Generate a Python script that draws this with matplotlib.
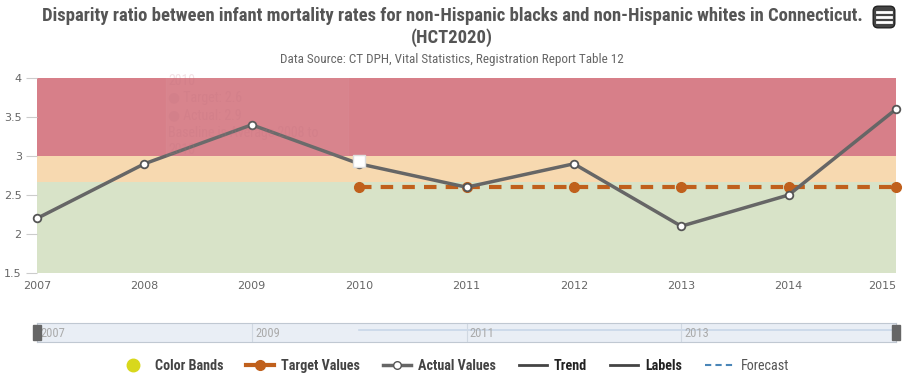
import matplotlib
matplotlib.use("Agg")
import matplotlib.pyplot as plt
from matplotlib.lines import Line2D
from matplotlib.patches import Rectangle, FancyBboxPatch

NARROW = ['Roboto Condensed', 'Asap Condensed', 'Archivo Narrow', 'DejaVu Sans']
plt.rcParams['font.family'] = NARROW

# data
years = [2007, 2008, 2009, 2010, 2011, 2012, 2013, 2014, 2015]
actual = [2.2, 2.9, 3.4, 2.9, 2.6, 2.9, 2.1, 2.5, 3.6]
target_years = [2010, 2011, 2012, 2013, 2014, 2015]
target = [2.6, 2.6, 2.6, 2.6, 2.6, 2.6]
bands = [(1.5, 2.67, '#d8e3c8'), (2.67, 3.0, '#f7d9b0'), (3.0, 4.0, '#d77f89')]
nav_ticks = [2007, 2009, 2011, 2013]

W, H = 904, 376
fig = plt.figure(figsize=(W / 100, H / 100), dpi=100)
renderer = fig.canvas.get_renderer()

def px_axes(x0, y0, x1, y1):
    return fig.add_axes([x0 / W, 1 - y1 / H, (x1 - x0) / W, (y1 - y0) / H])

def fit_width(txt, width_px):
    # shrink/grow text so it spans about width_px pixels
    w = txt.get_window_extent(renderer).width
    txt.set_fontsize(txt.get_fontsize() * width_px / w)

# main chart
ax = px_axes(37, 78, 896, 273)
for lo, hi, c in bands:
    ax.axhspan(lo, hi, color=c, zorder=0, lw=0)
ax.plot(target_years, target, color='#c0601c', lw=3, ls=(0, (3, 2.2)),
        marker='o', ms=7, mfc='#c0601c', mec='#c0601c', zorder=3, clip_on=False)
ax.plot(years, actual, color='#666666', lw=2.5, marker='o', ms=5.5,
        mfc='white', mec='#555555', mew=1.3, zorder=4, clip_on=False)
# little label box at 2010
ax.plot([2010], [2.94], marker='s', ms=9, mfc='white', mec='#dddddd', zorder=5)

ax.set_xlim(2007, 2015)
ax.set_ylim(1.5, 4)
ax.set_xticks(years)
ax.set_yticks([1.5, 2, 2.5, 3, 3.5, 4])
ax.set_yticklabels(['1.5', '2', '2.5', '3', '3.5', '4'])
ax.tick_params(axis='y', length=8, color='#cccccc', labelcolor='#666666', pad=3)
ax.tick_params(axis='x', length=0, labelcolor='#666666', pad=6)
for lab in ax.get_xticklabels() + ax.get_yticklabels():
    lab.set_family(['DejaVu Sans'])
    lab.set_fontsize(8)
ax.get_xticklabels()[-1].set_horizontalalignment('right')
for s in ax.spines.values():
    s.set_visible(False)

# faint tooltip remnant
ax.add_patch(Rectangle((2008.2, 3.0), 1.7, 1.1, color='white', alpha=0.04, zorder=6, clip_on=False))
ax.text(2008.22, 4.05, '2010\n● Target: 2.6\n● Actual: 2.9\nBaseline is Average 2008 to\n2010',
        fontsize=10, color='#c07080', alpha=0.2, va='top', zorder=6, linespacing=1.3)

# navigator
nav = px_axes(37, 323, 896, 342)
nav.set_xlim(2007, 2015)
nav.set_ylim(0, 1)
nav.set_facecolor('#e9eef5')
nav.plot(target_years, [0.62] * len(target_years), color='#c8d6e8', lw=1.2)
for t in nav_ticks:
    nav.axvline(t, color='#d0d8e2', lw=0.8)
    nav.text(t + 0.03, 0.45, str(t), fontsize=9, color='#aaaaaa', va='center')
nav.set_xticks([])
nav.set_yticks([])
for s in nav.spines.values():
    s.set_color('#c0c8d2')
for xe in (2007, 2015):
    nav.add_patch(Rectangle((xe - 0.035, 0.1), 0.07, 0.8, color='#666666', clip_on=False, zorder=5))

# titles
t1 = fig.text(452 / W, 1 - 16 / H, 'Disparity ratio between infant mortality rates for non-Hispanic blacks and non-Hispanic whites in Connecticut.',
              ha='center', va='center', fontsize=12, fontweight='bold', color='#555555')
fit_width(t1, 825)
fig.text(452 / W, 1 - 38 / H, '(HCT2020)', ha='center', va='center', fontsize=t1.get_fontsize(),
         fontweight='bold', color='#555555')
t3 = fig.text(452 / W, 1 - 59 / H, 'Data Source: CT DPH, Vital Statistics, Registration Report Table 12',
              ha='center', va='center', fontsize=9, color='#666666')
fit_width(t3, 345)

# menu button
btn = px_axes(872, 5, 896, 29)
btn.add_patch(FancyBboxPatch((0.05, 0.05), 0.9, 0.9, boxstyle='round,pad=0,rounding_size=0.2',
                             fc='#444444', ec='#222222'))
for yy in (0.3, 0.5, 0.7):
    btn.plot([0.22, 0.78], [yy, yy], color='white', lw=2)
btn.set_xlim(0, 1)
btn.set_ylim(0, 1)
btn.axis('off')

# legend
handles = [
    Line2D([], [], ls='none', marker='o', ms=9, mfc='#d8d81c', mec='#d8d81c'),
    Line2D([], [], color='#c0601c', lw=3, marker='o', ms=7, mfc='#c0601c'),
    Line2D([], [], color='#666666', lw=2.5, marker='o', ms=5.5, mfc='white', mec='#555555'),
    Line2D([], [], color='#444444', lw=2),
    Line2D([], [], color='#444444', lw=2),
    Line2D([], [], color='#4a86b8', lw=1.5, ls=(0, (3, 2))),
]
labels = ['Color Bands', 'Target Values', 'Actual Values', 'Trend', 'Labels', 'Forecast']
leg = fig.legend(handles, labels, loc='center', bbox_to_anchor=(454 / W, 1 - 366 / H), ncol=6,
                 frameon=False, fontsize=10.2, handlelength=2.0, columnspacing=1.6,
                 handletextpad=0.5)
colors = ['#444444', '#444444', '#444444', '#222222', '#222222', '#555555']
weights = ['bold', 'bold', 'bold', 'bold', 'bold', 'normal']
for txt, c, w in zip(leg.get_texts(), colors, weights):
    txt.set_color(c)
    txt.set_fontweight(w)

fig.savefig('out.png', dpi=100)
